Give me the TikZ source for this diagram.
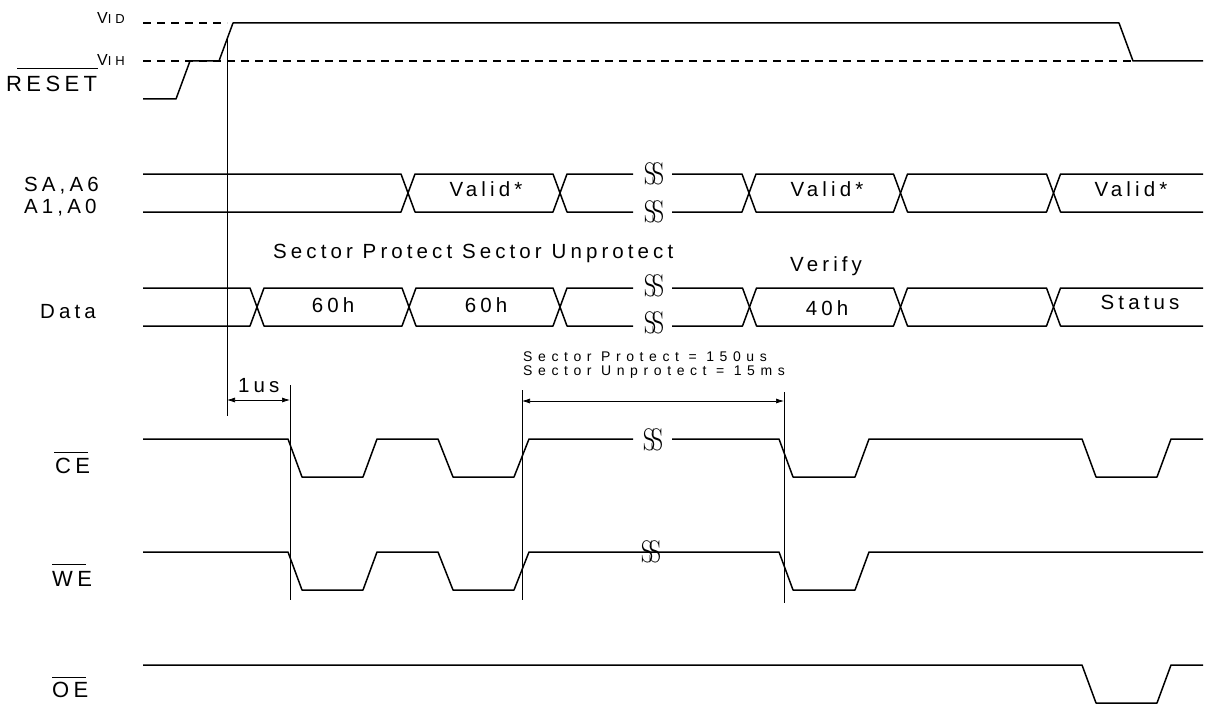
\documentclass[tikz,border=0pt]{standalone}
\usepackage{fontspec}
\setsansfont{Liberation Sans}
\renewcommand\familydefault{\sfdefault}
\newfontfamily\ls[LetterSpace=20]{Liberation Sans}
\newfontfamily\lss[LetterSpace=40]{Liberation Sans}
\newfontfamily\lsv[LetterSpace=30]{Liberation Sans}
\usetikzlibrary{arrows.meta}
\newcommand\hexseg[4]{%
  \draw[sig] (#1,{(#3+#4)/2}) -- (#1+7,#3) -- (#2-7,#3) -- (#2,{(#3+#4)/2}) -- (#2-7,#4) -- (#1+7,#4) -- cycle;}
\newcommand\brkmark[3]{%
  \node[brk] (#1) at (#2,#3) {S\kern-5pt S};}
\begin{document}
\begin{tikzpicture}[x=1pt,y=-1pt,
  sig/.style={line width=1.5pt,line join=round},
  thinln/.style={line width=0.7pt},
  dashln/.style={line width=1.3pt,dash pattern=on 8pt off 6pt},
  dim/.style={line width=0.7pt,{Latex[length=8pt,width=5pt]}-{Latex[length=8pt,width=5pt]}},
  lbl/.style={inner sep=0pt,font={\ls\fontsize{20.5}{22}\selectfont}},
  big/.style={inner sep=0pt,font={\ls\fontsize{22}{24}\selectfont}},
  small/.style={inner sep=0pt,font={\lss\fontsize{14}{14}\selectfont},align=left},
  brk/.style={inner sep=0pt,font={\rmfamily\fontsize{26}{26}\selectfont},yscale=1.2,xscale=0.95}]
\useasboundingbox (0,0) rectangle (1206,706);

% ---------- RESET ----------
\draw[dashln,line width=2pt] (143,23) -- (227,23);
\draw[dashln] (143,61) -- (1133,61);
\draw[sig] (143,99) -- (176,99) -- (190,61) -- (219,61) -- (233,23) -- (1119,23) -- (1133,61) -- (1203,61);
\node[inner sep=0pt,anchor=base west,font={\lsv\fontsize{16}{16}\selectfont}] (vid) at (97,24) {V{\fontsize{13}{13}\selectfont ID}};
\node[inner sep=0pt,anchor=base west,font={\lsv\fontsize{16}{16}\selectfont}] (vih) at (97,66) {V{\fontsize{13}{13}\selectfont IH}};
\node[big,anchor=base west] (reset) at (6,92) {RESET};
\draw[line width=1pt] (17,69) -- (98,69);

% ---------- address bus ----------
\node[lbl,anchor=base west] (sa) at (24,191.5) {SA,A6};
\node[lbl,anchor=base west] (a1) at (24,213) {A1,A0};
\draw[sig] (143,174) -- (401,174) -- (408,193) -- (401,212) -- (143,212);
\hexseg{408}{560}{174}{212}
\draw[sig] (633,174) -- (567,174) -- (560,193) -- (567,212) -- (633,212);
\draw[sig] (672,174) -- (742,174) -- (749,193) -- (742,212) -- (672,212);
\hexseg{749}{900.5}{174}{212}
\hexseg{900.5}{1053.5}{174}{212}
\draw[sig] (1203,174) -- (1060.5,174) -- (1053.5,193) -- (1060.5,212) -- (1203,212);
\brkmark{b1}{654}{174}
\brkmark{b2}{654}{212}
\node[lbl,anchor=base] (v1) at (486,196) {Valid*};
\node[lbl,anchor=base] (v2) at (827,196) {Valid*};
\node[lbl,anchor=base] (v3) at (1131,196) {Valid*};

% ---------- data bus ----------
\node[lbl,anchor=base west] (sp) at (273,258) {Sector Protect Sector Unprotect};
\node[lbl,anchor=base west] (vf) at (790,271) {Verify};
\node[lbl,anchor=base west] (data) at (40,318) {Data};
\draw[sig] (143,288) -- (250,288) -- (257,307) -- (250,326) -- (143,326);
\hexseg{257}{409}{288}{326}
\hexseg{409}{560}{288}{326}
\draw[sig] (633,288) -- (567,288) -- (560,307) -- (567,326) -- (633,326);
\draw[sig] (672,288) -- (742.5,288) -- (749.5,307) -- (742.5,326) -- (672,326);
\hexseg{749.5}{900.5}{288}{326}
\hexseg{900.5}{1053.5}{288}{326}
\draw[sig] (1203,288) -- (1060.5,288) -- (1053.5,307) -- (1060.5,326) -- (1203,326);
\brkmark{b3}{654}{286}
\brkmark{b4}{654}{323}
\node[lbl,anchor=base] (d1) at (333,312) {60h};
\node[lbl,anchor=base] (d2) at (486,312) {60h};
\node[lbl,anchor=base] (d3) at (827,315) {40h};
\node[lbl,anchor=base] (d4) at (1140,309) {Status};

% ---------- timing marks ----------
\coordinate (m0t) at (227,39.5);
\coordinate (m0b) at (227,416);
\coordinate (m1t) at (290,385);
\coordinate (m1b) at (290,600);
\coordinate (m2t) at (522,390);
\coordinate (m2b) at (522,600);
\coordinate (m3t) at (784,392);
\coordinate (m3b) at (784,603);
\draw[thinln] (m0t) -- (m0b);
\draw[thinln] (m1t) -- (m1b);
\draw[thinln] (m2t) -- (m2b);
\draw[thinln] (m3t) -- (m3b);
\coordinate (a0) at (227,400);
\coordinate (a1e) at (290,400);
\coordinate (a2) at (522,401);
\coordinate (a3) at (784,401);
\draw[dim] (a0) -- (a1e);
\draw[dim] (a2) -- (a3);
\node[lbl,anchor=base west] (us) at (238,392) {1us};
\node[small,anchor=base west] (spt) at (523,375) {Sector Protect = 150us\\Sector Unprotect = 15ms};

% ---------- CE ----------
\node[big,anchor=base west] (ce) at (55,473) {CE};
\draw[line width=1pt] (54,452) -- (88,452);
\draw[sig] (143,439) -- (288,439) -- (302,477) -- (363,477) -- (377,439) -- (438,439) -- (453,477) -- (514,477) -- (529,439) -- (633,439);
\draw[sig] (672,439) -- (779,439) -- (793,477) -- (855,477) -- (869,439) -- (1082,439) -- (1096,477) -- (1157,477) -- (1171,439) -- (1203,439);
\brkmark{b5}{653}{440}

% ---------- WE ----------
\node[big,anchor=base west] (we) at (52,586) {WE};
\draw[line width=1pt] (52,564) -- (86,564);
\draw[sig] (143,552) -- (288,552) -- (302,590) -- (363,590) -- (377,552) -- (438,552) -- (453,590) -- (514,590) -- (529,552) -- (779,552) -- (793,590) -- (855,590) -- (869,552) -- (1203,552);
\brkmark{b6}{651}{552}

% ---------- OE ----------
\node[big,anchor=base west] (oe) at (52,697) {OE};
\draw[line width=1pt] (52,677) -- (86,677);
\draw[sig] (143,665) -- (1082,665) -- (1096,703) -- (1157,703) -- (1171,665) -- (1203,665);
\end{tikzpicture}
\end{document}
